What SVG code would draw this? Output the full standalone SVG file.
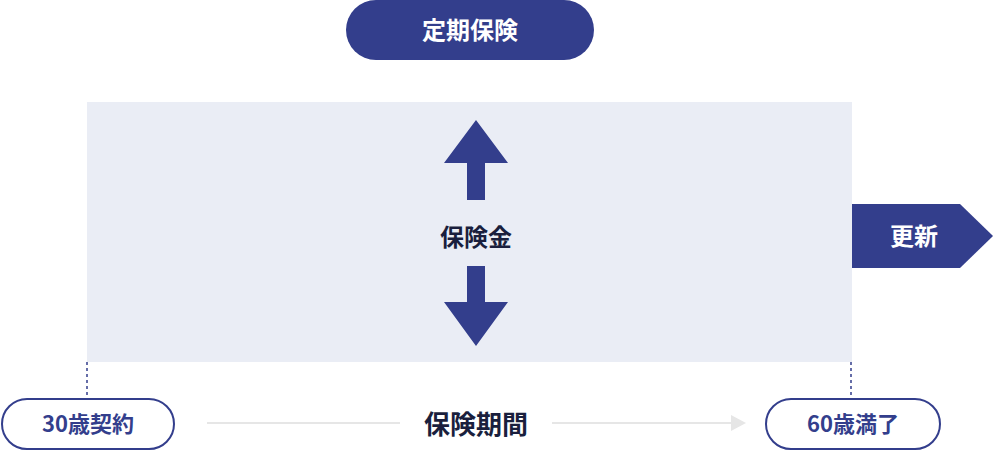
<svg xmlns="http://www.w3.org/2000/svg" width="994" height="450" viewBox="0 0 994 450">
<style>
text{font-family:"Noto Sans CJK JP","Noto Sans",sans-serif;font-weight:bold;text-anchor:middle}
.w{fill:#fff;font-size:24px}
.n{fill:#333e8c;font-size:22px}
.pill{fill:#fff;stroke:#333e8c;stroke-width:2}
.dash{stroke:#333e8c;stroke-width:1.5;stroke-dasharray:3 3}
</style>
<rect x="87" y="102" width="765" height="260" fill="#eaedf5"/>
<g id="title"><rect x="346" y="0" width="248" height="60" rx="30" fill="#333e8c"/><text class="w" x="470" y="39">定期保険</text></g>
<g id="arrows" fill="#333e8c">
<polygon points="476,120 508,163 485,163 485,200 467,200 467,163 444,163"/>
<polygon points="476,346 508,302 485,302 485,266 467,266 467,302 444,302"/>
</g>
<g id="payout"><text x="476" y="246" font-size="24" fill="#1a1f3d">保険金</text></g>
<g id="renew"><polygon points="852,204 960,204 993,236 960,268 852,268" fill="#333e8c"/><text class="w" x="914" y="245">更新</text></g>
<g id="connectors">
<line class="dash" x1="87" y1="362" x2="87" y2="399"/>
<line class="dash" x1="851" y1="362" x2="851" y2="399"/>
<line x1="207" y1="423" x2="400" y2="423" stroke="#e6e6e6" stroke-width="2"/>
<line x1="552" y1="423" x2="732" y2="423" stroke="#e6e6e6" stroke-width="2"/>
<polygon points="731,415 746,423 731,431" fill="#e6e6e6"/>
</g>
<g id="start"><rect class="pill" x="2" y="399" width="172" height="50" rx="25"/><text class="n" x="88" y="432">30歳契約</text></g>
<g id="period"><text x="476" y="434" font-size="26" fill="#1a1f3d">保険期間</text></g>
<g id="end"><rect class="pill" x="766" y="399" width="174" height="50" rx="25"/><text class="n" x="853" y="432">60歳満了</text></g>
</svg>
